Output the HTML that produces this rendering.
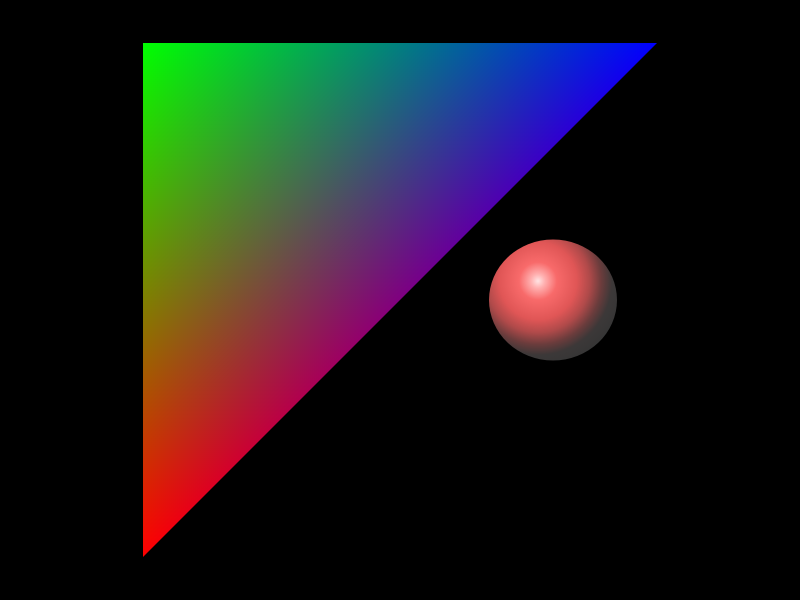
<!DOCTYPE html>
<html>
<head>
<meta charset="utf-8">
<style>
  html, body { margin:0; padding:0; background:#000; }
  #scene { position:relative; width:800px; height:600px; background:#000; overflow:hidden; }
  #scene svg { position:absolute; left:0; top:0; mix-blend-mode: plus-lighter; }
</style>
</head>
<body>
<div id="scene">
  <svg width="800" height="600">
    <defs>
      <linearGradient id="gr" gradientUnits="userSpaceOnUse" x1="143" y1="557" x2="143" y2="43">
        <stop offset="0" stop-color="#ff0000"/><stop offset="1" stop-color="#000000"/>
      </linearGradient>
    </defs>
    <polygon points="143,557 143,43 657,43" fill="url(#gr)"/>
  </svg>
  <svg width="800" height="600">
    <defs>
      <linearGradient id="gg" gradientUnits="userSpaceOnUse" x1="143" y1="43" x2="400" y2="300">
        <stop offset="0" stop-color="#00ff00"/><stop offset="1" stop-color="#000000"/>
      </linearGradient>
    </defs>
    <polygon points="143,557 143,43 657,43" fill="url(#gg)"/>
  </svg>
  <svg width="800" height="600">
    <defs>
      <linearGradient id="gb" gradientUnits="userSpaceOnUse" x1="657" y1="43" x2="143" y2="43">
        <stop offset="0" stop-color="#0000ff"/><stop offset="1" stop-color="#000000"/>
      </linearGradient>
    </defs>
    <polygon points="143,557 143,43 657,43" fill="url(#gb)"/>
  </svg>
  <svg width="800" height="600" style="mix-blend-mode:normal">
    <defs>
      <radialGradient id="gs" gradientUnits="userSpaceOnUse" cx="538" cy="281" r="86">
        <stop offset="0" stop-color="#ffe4e4"/>
        <stop offset="0.08" stop-color="#ffb0b0"/>
        <stop offset="0.22" stop-color="#f86a6a"/>
        <stop offset="0.45" stop-color="#e05656"/>
        <stop offset="0.6" stop-color="#b04a4a"/>
        <stop offset="0.74" stop-color="#6a3c3c"/>
        <stop offset="0.86" stop-color="#3c3838"/>
        <stop offset="1" stop-color="#363636"/>
      </radialGradient>
    </defs>
    <ellipse cx="553" cy="300" rx="64" ry="60.5" fill="url(#gs)"/>
  </svg>
</div>
</body>
</html>
